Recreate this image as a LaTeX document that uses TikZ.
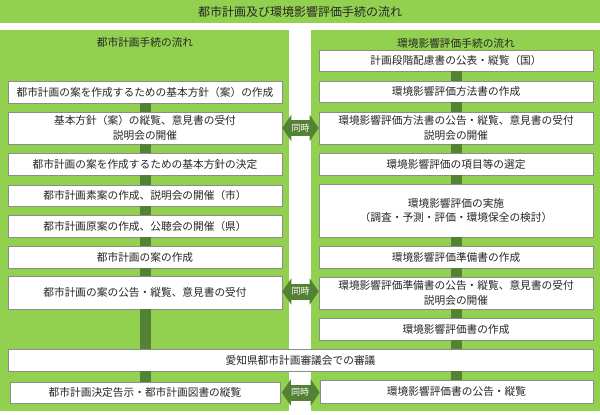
\documentclass[tikz,border=0pt]{standalone}
\usepackage{fontspec}
\setmainfont{Noto Sans CJK JP}
\usetikzlibrary{arrows.meta}
\definecolor{lgreen}{HTML}{92D050}
\definecolor{dgreen}{HTML}{548235}
\definecolor{txt}{HTML}{262626}
\begin{document}
\begin{tikzpicture}[x=1pt,y=-1pt,
  box/.style={draw=black!45, line width=0.6pt, fill=white, inner sep=0pt,
    minimum width=274pt, align=center, text=txt,
    font=\fontsize{10.7}{14.5}\selectfont},
  head/.style={text=txt, inner sep=0pt, font=\fontsize{10.7}{13}\selectfont},
  bar/.style={draw=dgreen, line width=11pt},
  sync/.style={draw=dgreen, line width=16pt,
    {Triangle[length=9pt,width=26pt]}-{Triangle[length=9pt,width=26pt]}},
  synct/.style={text=white, inner sep=0pt, font=\fontsize{9}{10}\selectfont}]
\useasboundingbox (0,0) rectangle (600,415);
% bands and panels
\fill[lgreen] (0,0) rectangle (600,22.5);
\fill[lgreen] (0,30) rectangle (289,411);
\fill[lgreen] (311,30) rectangle (600,411);
\node[head, font=\fontsize{12}{13}\selectfont] (title) at (300,11.5) {都市計画及び環境影響評価手続の流れ};
\node[head] (hl) at (145,42) {都市計画手続の流れ};
\node[head] (hr) at (456,43) {環境影響評価手続の流れ};
% left column
\node[box, minimum height=22pt] (b1) at (145,92) {都市計画の案を作成するための基本方針（案）の作成};
\node[box, minimum height=32pt] (b2) at (145,128) {基本方針（案）の縦覧、意見書の受付\\説明会の開催};
\node[box, minimum height=22pt] (b3) at (145,164) {都市計画の案を作成するための基本方針の決定};
\node[box, minimum height=21pt] (b4) at (145,195.5) {都市計画素案の作成、説明会の開催（市）};
\node[box, minimum height=22pt] (b5) at (145,226) {都市計画原案の作成、公聴会の開催（県）};
\node[box, minimum height=22pt] (b6) at (145,257) {都市計画の案の作成};
\node[box, minimum height=33pt] (b7) at (145,292.5) {都市計画の案の公告・縦覧、意見書の受付};
\node[box, minimum height=22pt, minimum width=585pt] (w) at (300.5,360) {愛知県都市計画審議会での審議};
\node[box, minimum height=21pt, minimum width=270pt] (b9) at (145,392.5) {都市計画決定告示・都市計画図書の縦覧};
% right column
\node[box, minimum height=21pt] (r1) at (456,60.5) {計画段階配慮書の公表・縦覧（国）};
\node[box, minimum height=21pt] (r2) at (456,91.5) {環境影響評価方法書の作成};
\node[box, minimum height=32pt] (r3) at (456,128) {環境影響評価方法書の公告・縦覧、意見書の受付\\説明会の開催};
\node[box, minimum height=22pt] (r4) at (456,164) {環境影響評価の項目等の選定};
\node[box, minimum height=53pt] (r5) at (456,210.5) {環境影響評価の実施\\（調査・予測・評価・環境保全の検討）};
\node[box, minimum height=22pt] (r6) at (456,257) {環境影響評価準備書の作成};
\node[box, minimum height=32pt] (r7) at (456,293) {環境影響評価準備書の公告・縦覧、意見書の受付\\説明会の開催};
\node[box, minimum height=22pt] (r8) at (456,329) {環境影響評価書の作成};
\node[box, minimum height=23pt, minimum width=273pt] (r9) at (456.5,391.5) {環境影響評価書の公告・縦覧};
% vertical connectors
\foreach \a/\b in {b1/b2,b2/b3,b3/b4,b4/b5,b5/b6,b6/b7,r1/r2,r2/r3,r3/r4,r4/r5,r5/r6,r6/r7,r7/r8}
  \draw[bar] (\a.south) -- (\b.north);
\draw[bar] (b7.south) -- (b7.south |- w.north);
\draw[bar] (b9.north) -- (b9.north |- w.south);
\draw[bar] (r8.south) -- (r8.south |- w.north);
\draw[bar] (r9.north) -- (r9.north |- w.south);
% simultaneous arrows
\draw[sync] (b2.east) -- node[synct]{同時} (r3.west);
\draw[sync] ([yshift=1pt]b7.east) -- node[synct]{同時} ([yshift=1pt]b7.east -| r7.west);
\draw[sync, shorten <=1.5pt] (b9.east) -- node[synct]{同時} (b9.east -| r9.west);
\end{tikzpicture}
\end{document}
